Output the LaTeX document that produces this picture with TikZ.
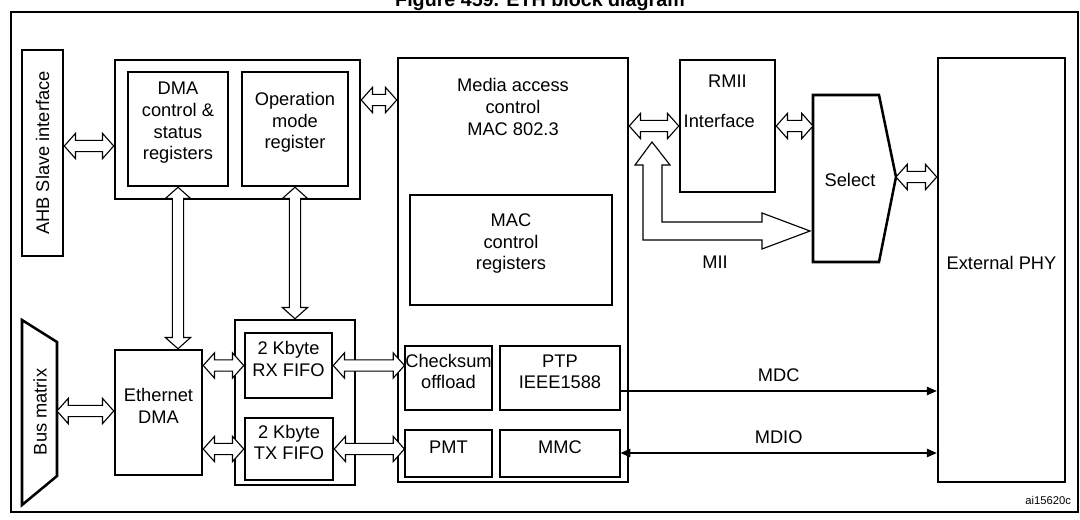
\documentclass[tikz,border=0pt]{standalone}
\usepackage{fontspec}
\setmainfont{Liberation Sans}
\usetikzlibrary{arrows.meta, positioning, fit, calc}

% hollow double arrows between two points
\newcommand{\hdbl}[2]{%
  \draw[hollow] let \p1=(#1), \p2=(#2) in
    (\x1,\y1) -- (\x1+8pt,\y1+9pt) -- (\x1+8pt,\y1+4pt) -- (\x2-8pt,\y1+4pt)
    -- (\x2-8pt,\y1+9pt) -- (\x2,\y1) -- (\x2-8pt,\y1-9pt) -- (\x2-8pt,\y1-4pt)
    -- (\x1+8pt,\y1-4pt) -- (\x1+8pt,\y1-9pt) -- cycle;}
\newcommand{\vdbl}[2]{%
  \draw[hollow] let \p1=(#1), \p2=(#2) in
    (\x1,\y1) -- (\x1+9pt,\y1-8pt) -- (\x1+4pt,\y1-8pt) -- (\x1+4pt,\y2+8pt)
    -- (\x1+9pt,\y2+8pt) -- (\x1,\y2) -- (\x1-9pt,\y2+8pt) -- (\x1-4pt,\y2+8pt)
    -- (\x1-4pt,\y1-8pt) -- (\x1-9pt,\y1-8pt) -- cycle;}

\begin{document}
\begin{tikzpicture}[
    x=0.025cm, y=-0.025cm,
    box/.style={draw, line width=1.8pt, inner sep=0pt, align=center},
    sbox/.style={draw, line width=0.8pt, inner sep=0pt, align=center},
    txt/.style={font=\fontsize{13}{15.5}\selectfont, align=center},
    hollow/.style={draw, line width=0.8pt, fill=white, line join=miter},
    line/.style={line width=0.9pt},
  ]
  \useasboundingbox (0,0) rectangle (1080,520);

  % title and frame
  \node[font=\bfseries\fontsize{14}{16}\selectfont, anchor=base] (title) at (540,6) {Figure 459. ETH block diagram};
  \draw[line width=0.8pt] (11,12) rectangle (1078,512);
  \node[font=\fontsize{8}{10}\selectfont, anchor=south east] (ref) at (1076,510) {ai15620c};

  % left column
  \node[box, fit={(22,50)(63,256)}] (ahb) {};
  \node[txt, rotate=90] at (ahb.center) {AHB Slave interface};
  \draw[line width=1.8pt] (22,320) -- (57,342) -- (57,476) -- (22,505) -- cycle;
  \coordinate (bus) at (57,411);
  \node[txt, rotate=90] at (40,412) {Bus matrix};

  % registers
  \node[box, fit={(115,60)(360,199)}] (dmabox) {};
  \node[box, txt, fit={(128,72)(228,186)}] (dmactrl) {DMA\\control \&\\status\\registers};
  \node[box, txt, fit={(242,72)(348,186)}] (opmode) {Operation\\mode\\register};

  % DMA and FIFOs
  \node[box, txt, fit={(115,350)(202,475)}] (ethdma) {Ethernet\\DMA};
  \node[box, fit={(235,320)(355,485)}] (fifo) {};
  \node[box, txt, fit={(245,333)(332,398)}] (rx) {2 Kbyte\\RX FIFO};
  \node[box, txt, fit={(245,418)(333,480)}] (tx) {2 Kbyte\\TX FIFO};

  % MAC
  \node[box, fit={(398,58)(628,482)}] (mac) {};
  \node[txt, below=12pt of mac.north] (mactitle) {Media access\\control\\MAC 802.3};
  \node[sbox, txt, fit={(410,195)(612,305)}] (macreg) {MAC\\control\\registers};
  \node[sbox, txt, fit={(405,346)(492,410)}] (csum) {Checksum\\offload};
  \node[sbox, txt, fit={(500,346)(620,410)}] (ptp) {PTP\\IEEE1588};
  \node[sbox, txt, fit={(405,430)(492,477)}] (pmt) {PMT};
  \node[sbox, txt, fit={(500,430)(620,477)}] (mmc) {MMC};

  % RMII, select, PHY
  \node[box, fit={(680,60)(775,192)}] (rmii) {};
  \node[txt, below=8pt of rmii.north] (rmiit) {RMII};
  \node[txt, anchor=west] (rmiii) at (rmii.west |- 0,121) {Interface};
  \draw[line width=1.8pt] (813,95) -- (879,95) -- (896,177) -- (879,262) -- (813,262) -- cycle;
  \node[txt] (select) at (850,180) {Select};
  \coordinate (selw) at (810,231);
  \node[box, txt, fit={(938,58)(1065,482)}] (phy) {External PHY};

  % hollow connectors
  \hdbl{ahb.east |- 0,146}{dmabox.west |- 0,146}
  \hdbl{dmabox.east |- 0,100}{mac.west |- 0,100}
  \hdbl{mac.east |- 0,126}{rmii.west |- 0,126}
  \hdbl{rmii.east |- 0,126}{813,126}
  \hdbl{896,177}{phy.west |- 0,177}
  \hdbl{bus}{ethdma.west |- bus}
  \hdbl{ethdma.east |- rx}{rx.west}
  \hdbl{ethdma.east |- tx}{tx.west}
  \hdbl{rx.east}{csum.west |- rx}
  \hdbl{tx.east}{pmt.west |- tx}
  \vdbl{dmactrl.south}{ethdma.north -| dmactrl.south}
  \vdbl{opmode.south}{fifo.north -| opmode.south}

  % MII
  \draw[hollow] (652,142) -- (670,165) -- (662,165) -- (662,222) -- (762,222) -- (762,213)
    -- (selw) -- (762,249) -- (762,240) -- (643,240) -- (643,165) -- (635,165) -- cycle;
  \node[txt] (mii) at (715,262) {MII};

  % management lines
  \draw[line, -{Triangle[length=7pt,width=6pt]}] (ptp.east |- 0,391) -- (phy.west |- 0,391)
    node[txt, midway, above=3pt] {MDC};
  \draw[line, {Triangle[length=7pt,width=6pt]}-{Triangle[length=7pt,width=6pt]}] (mmc.east |- 0,453) -- (phy.west |- 0,453)
    node[txt, midway, above=3pt] {MDIO};
\end{tikzpicture}
\end{document}
